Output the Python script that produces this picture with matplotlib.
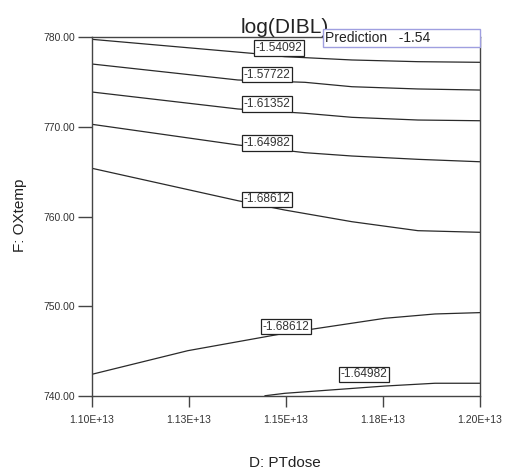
import matplotlib
matplotlib.use("Agg")
import matplotlib.pyplot as plt
from matplotlib.patches import Rectangle

plt.rcParams['font.family'] = ['Liberation Sans', 'DejaVu Sans']

# ---- data (x in units of 1e13, y = OXtemp) ----
x_ticks = [1.10, 1.125, 1.15, 1.175, 1.20]
x_tick_labels = ["1.10E+13", "1.13E+13", "1.15E+13", "1.18E+13", "1.20E+13"]
y_ticks = [740, 750, 760, 770, 780]

c1_x = [1.10, 1.1412, 1.1497, 1.1670, 1.1840, 1.20]
c1_y = [779.74, 778.18, 777.81, 777.44, 777.25, 777.18]
c2_x = [1.10, 1.1376, 1.1549, 1.1670, 1.1840, 1.20]
c2_y = [776.99, 775.21, 774.95, 774.46, 774.21, 774.09]
c3_x = [1.10, 1.1376, 1.1549, 1.1670, 1.1840, 1.20]
c3_y = [773.87, 771.98, 771.50, 771.05, 770.75, 770.67]
c4_x = [1.10, 1.1376, 1.1549, 1.1670, 1.1840, 1.20]
c4_y = [770.27, 767.97, 767.11, 766.74, 766.37, 766.10]
c5_x = [1.10, 1.1376, 1.1497, 1.1670, 1.1840, 1.20]
c5_y = [765.37, 761.76, 760.72, 759.42, 758.42, 758.24]
c6_x = [1.10, 1.1247, 1.1497, 1.1755, 1.1884, 1.20]
c6_y = [742.42, 745.05, 746.99, 748.66, 749.14, 749.29]
c7_x = [1.1446, 1.1497, 1.1755, 1.1884, 1.20]
c7_y = [740.03, 740.30, 741.11, 741.42, 741.42]

curves_x = [c1_x, c2_x, c3_x, c4_x, c5_x, c6_x, c7_x]
curves_y = [c1_y, c2_y, c3_y, c4_y, c5_y, c6_y, c7_y]

label_text = ["-1.54092", "-1.57722", "-1.61352", "-1.64982", "-1.68612", "-1.68612", "-1.64982"]
label_x = [1.1481, 1.1450, 1.1450, 1.1450, 1.1450, 1.1499, 1.1700]
label_y = [778.77, 775.82, 772.53, 768.19, 761.90, 747.74, 742.40]

title = "log(DIBL)"
prediction = "Prediction   -1.54"

# ---- figure ----
fig = plt.figure(figsize=(5.05, 4.73), dpi=100)
ax = fig.add_axes([92/505, 1-396/473, 388/505, 359/473])

for xs, ys in zip(curves_x, curves_y):
    ax.plot(xs, ys, color='#2a2a2a', lw=0.9, zorder=2)

for t, lx, ly in zip(label_text, label_x, label_y):
    ax.text(lx, ly, t, fontsize=8.6, color='#333333', ha='center', va='center', zorder=3,
            bbox=dict(boxstyle='square,pad=0.13', fc='white', ec='#222222', lw=0.9))

ax.set_xlim(1.10, 1.20)
ax.set_ylim(740, 780)
ax.set_xticks(x_ticks)
ax.set_xticklabels(x_tick_labels)
ax.set_yticks(y_ticks)
ax.set_yticklabels([f"{v:.2f}" for v in y_ticks])
ax.tick_params(axis='y', length=10, width=1, color='#444444', labelsize=7.5, labelcolor='#333333', pad=2)
ax.tick_params(axis='x', length=8, width=1, color='#444444', labelsize=7.5, labelcolor='#333333', pad=6)

for s in ax.spines.values():
    s.set_color('#444444')
    s.set_linewidth(1.0)

# title
ax.text(0.497, 1.011, title, transform=ax.transAxes, fontsize=15, ha='center', va='baseline',
        color='#222222', zorder=1, clip_on=False)

# prediction box
rect = Rectangle((0.595, 0.972), 0.405, 0.050, transform=ax.transAxes, fc='white',
                 ec='#9f9fe0', lw=1.0, zorder=5, clip_on=False)
ax.add_patch(rect)
ax.text(0.600, 0.997, prediction, transform=ax.transAxes, fontsize=10, ha='left', va='center',
        color='#222222', zorder=6, clip_on=False)

# axis labels
fig.text(20/505, 1-215/473, "F: OXtemp", rotation=90, fontsize=11, ha='center', va='center', color='#222222')
fig.text(285/505, 1-463/473, "D: PTdose", fontsize=11, ha='center', va='center', color='#222222')

fig.savefig("out.png", dpi=100)
